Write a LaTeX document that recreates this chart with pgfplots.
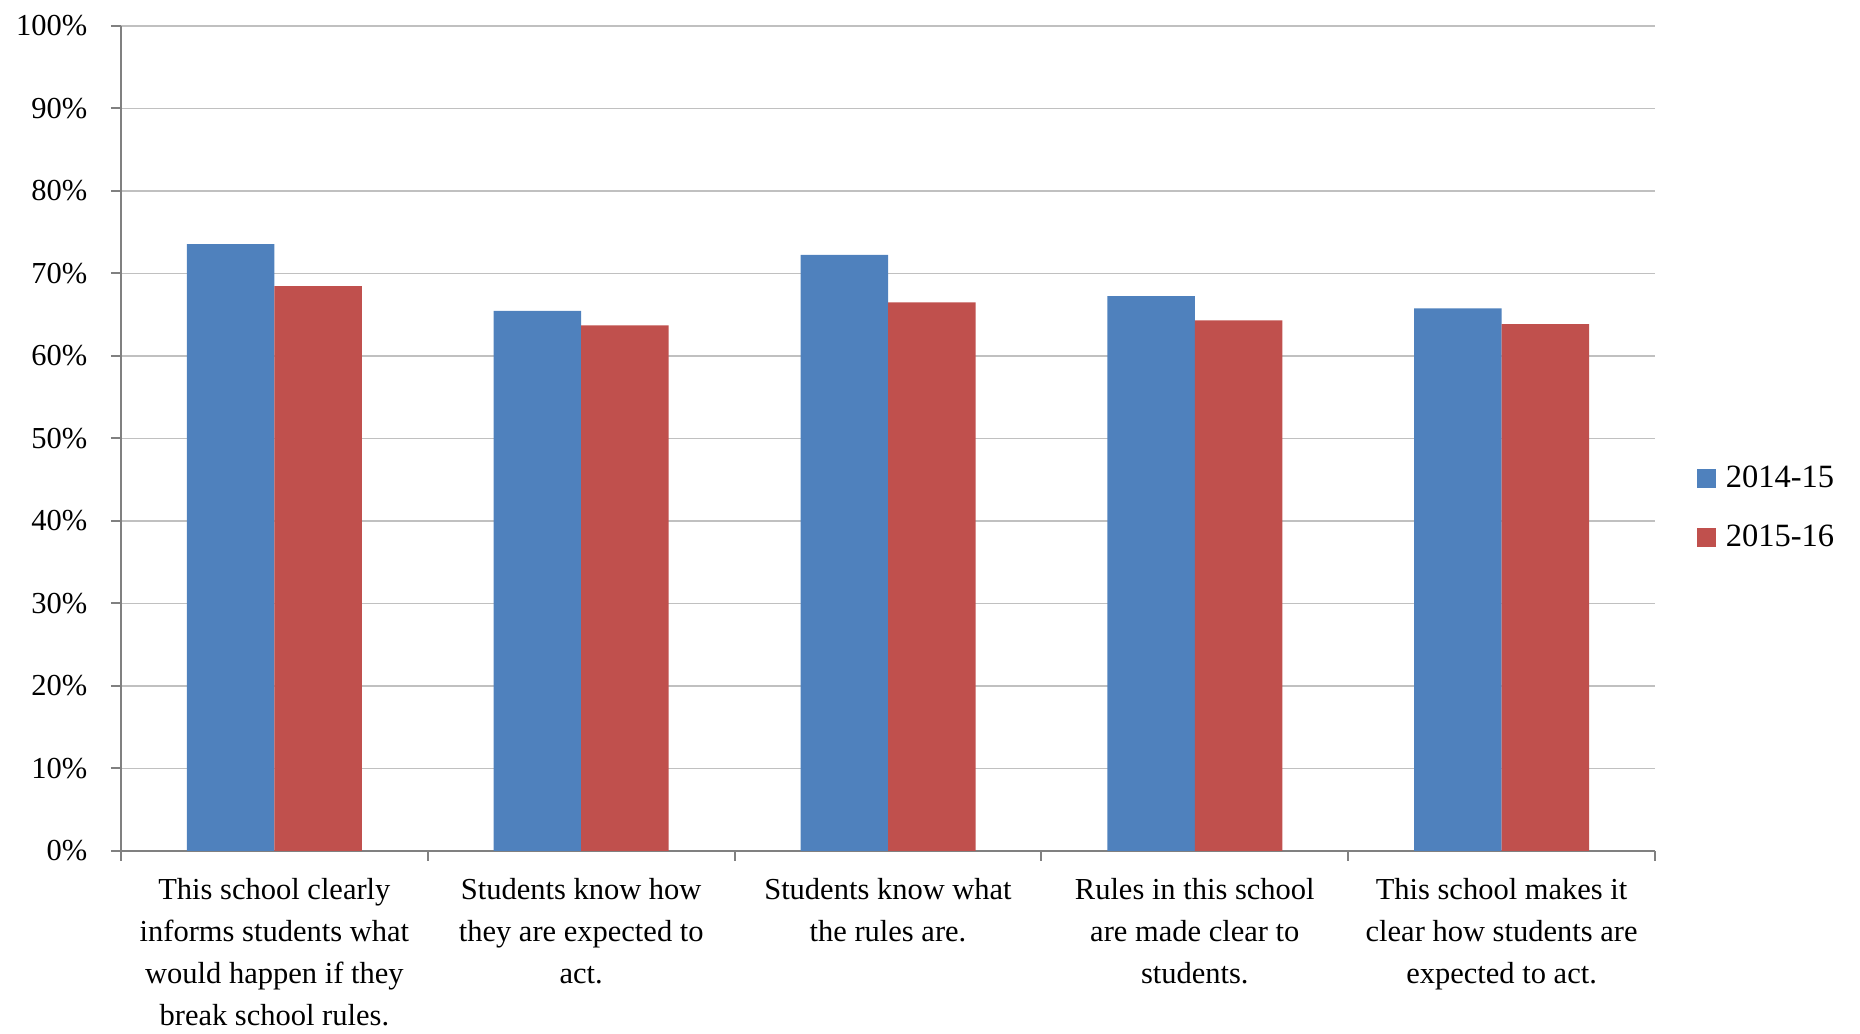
\documentclass[border=0pt]{standalone}
\usepackage{pgfplots}
\pgfplotsset{compat=1.18}
\usepackage{fontspec}
\setmainfont{Liberation Serif}
\definecolor{cblue}{HTML}{4F81BD}
\definecolor{cred}{HTML}{C0504D}
\definecolor{gridc}{HTML}{C0C0C0}
\definecolor{axc}{HTML}{808080}
\begin{document}
\begin{tikzpicture}
\useasboundingbox (-48.4pt,-73.2pt) rectangle (695.6pt,340.4pt);
\begin{axis}[
  at={(0pt,0pt)}, anchor=south west,
  scale only axis,
  width=613.6pt, height=330pt,
  xmin=-0.5, xmax=4.5,
  ymin=0, ymax=100,
  ybar=0pt, bar width=35pt,
  axis x line*=bottom, axis y line*=left,
  axis line style={draw=axc, line width=0.8pt, -},
  ytick={0,10,...,100},
  yticklabel={\pgfmathprintnumber{\tick}\%},
  /pgf/number format/assume math mode=true,
  ymajorgrids, grid style={draw=gridc, line width=0.6pt},
  major tick length=4pt, tick align=outside,
  tick style={draw=axc, line width=0.8pt},
  yticklabel style={xshift=-6pt},
  xtick={-0.5,0.5,...,4.5},
  xticklabels={},
  extra x ticks={0,1,2,3,4},
  extra x tick labels={{This school clearly\\informs students what\\would happen if they\\break school rules.},{Students know how\\they are expected to\\act.},{Students know what\\the rules are.},{Rules in this school\\are made clear to\\students.},{This school makes it\\clear how students are\\expected to act.}},
  extra x tick style={major tick length=0pt, grid=none, tick label style={align=center, yshift=-7.6pt}},
  tick label style={font=\fontsize{12.2}{16.8}\selectfont},
  legend style={draw=none, at={(1.027,0.416)}, anchor=west, font=\fontsize{13}{15}\selectfont, row sep=9.5pt, inner sep=0pt},
  legend cell align=left,
]
\addplot[fill=cblue, draw=none, legend image code/.code={\fill[cblue] (0pt,-3.8pt) rectangle (7.6pt,3.8pt); \path (9.6pt,0pt);}] coordinates {(0,73.55) (1,65.48) (2,72.26) (3,67.26) (4,65.77)};
\addplot[fill=cred, draw=none, legend image code/.code={\fill[cred] (0pt,-3.8pt) rectangle (7.6pt,3.8pt); \path (9.6pt,0pt);}] coordinates {(0,68.47) (1,63.71) (2,66.49) (3,64.31) (4,63.87)};
\legend{2014-15,2015-16}
\end{axis}
\end{tikzpicture}
\end{document}
